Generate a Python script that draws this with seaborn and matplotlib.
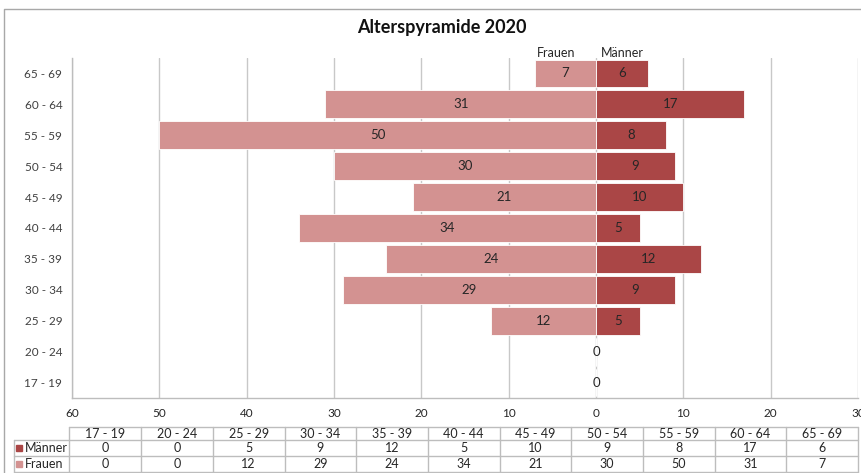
import numpy as np
import pandas as pd
import seaborn as sns
import matplotlib
matplotlib.use("Agg")
import matplotlib.pyplot as plt
from matplotlib.lines import Line2D
from matplotlib.patches import Rectangle

# Age groups, top of the pyramid first
age_groups = ["65 - 69", "60 - 64", "55 - 59", "50 - 54", "45 - 49", "40 - 44",
              "35 - 39", "30 - 34", "25 - 29", "20 - 24", "17 - 19"]
maenner = [6, 17, 8, 9, 10, 5, 12, 9, 5, 0, 0]
frauen = [7, 31, 50, 30, 21, 34, 24, 29, 12, 0, 0]
x_ticks = [-60, -50, -40, -30, -20, -10, 0, 10, 20, 30]
x_tick_labels = ["60", "50", "40", "30", "20", "10", "0", "10", "20", "30"]

C_FRAUEN = "#D39291"
C_MAENNER = "#AA4646"
GRID = "#C8C8C8"
TEXT = "#262626"

sns.set_theme(style="white")
plt.rcParams["font.family"] = ["Lato", "DejaVu Sans"]

W, H = 862, 473
fig = plt.figure(figsize=(W / 100, H / 100), dpi=100)


def fx(px):
    return px / W


def fy(py):
    return 1 - py / H


ax = fig.add_axes([fx(72), fy(398), 786 / W, 340 / H])

df = pd.DataFrame({
    "Altersgruppe": age_groups * 2,
    "Anzahl": [-v for v in frauen] + maenner,
    "Geschlecht": ["Frauen"] * len(frauen) + ["Männer"] * len(maenner),
})

sns.barplot(data=df, y="Altersgruppe", x="Anzahl", hue="Geschlecht",
            order=age_groups, hue_order=["Frauen", "Männer"],
            palette={"Frauen": C_FRAUEN, "Männer": C_MAENNER}, saturation=1,
            orient="h", dodge=False, width=0.9, legend=False,
            edgecolor="white", linewidth=0.6, ax=ax)

# value labels centred in each bar; a single "0" where both sides are empty
ax.bar_label(ax.containers[0], labels=[str(v) if v > 0 else "" for v in frauen],
             label_type="center", fontsize=9.5, color=TEXT)
ax.bar_label(ax.containers[1], labels=[str(v) for v in maenner],
             label_type="center", fontsize=9.5, color=TEXT)

ax.set_xlim(-60, 30)
ax.set_ylim(len(age_groups) - 0.5, -0.5)
ax.set_xticks(x_ticks)
ax.set_xticklabels(x_tick_labels)
ax.xaxis.grid(True, color=GRID, linewidth=1)
ax.yaxis.grid(False)
ax.set_axisbelow(True)
ax.set_xlabel("")
ax.set_ylabel("")
ax.tick_params(axis="x", length=0, pad=7, labelsize=8.5, labelcolor=TEXT)
ax.tick_params(axis="y", length=0, pad=7, labelsize=8.5, labelcolor="#404040")
for side in ["top", "right"]:
    ax.spines[side].set_visible(False)
for side in ["left", "bottom"]:
    ax.spines[side].set_color("#BDBDBD")
    ax.spines[side].set_linewidth(1)

# title and series captions
fig.text(fx(442), fy(28), "Alterspyramide 2020", ha="center", va="center",
         fontsize=13, fontweight="bold", color="#111111")
fig.text(fx(556), fy(53), "Frauen", ha="center", va="center", fontsize=9, color=TEXT)
fig.text(fx(622), fy(53), "Männer", ha="center", va="center", fontsize=9, color=TEXT)

# outer frame
fig.add_artist(Line2D([fx(4), fx(4), fx(862)], [fy(473), fy(9), fy(9)],
                      color="#A8A8A8", linewidth=1))

# data table below the axis
col_left = 69.5
col_w = (858 - col_left) / len(age_groups)
lab_left = 14
row_y = [427, 440, 456, 472]
tbl_color = "#BDBDBD"

fig.add_artist(Line2D([fx(col_left), fx(858)], [fy(row_y[0])] * 2, color=tbl_color, lw=1))
for yy in row_y[1:]:
    fig.add_artist(Line2D([fx(lab_left), fx(858)], [fy(yy)] * 2, color=tbl_color, lw=1))
fig.add_artist(Line2D([fx(lab_left)] * 2, [fy(row_y[1]), fy(row_y[3])], color=tbl_color, lw=1))
for k in range(len(age_groups) + 1):
    xx = col_left + k * col_w
    fig.add_artist(Line2D([fx(xx)] * 2, [fy(row_y[0]), fy(row_y[3])], color=tbl_color, lw=1))

table_groups = age_groups[::-1]
table_rows = [("Männer", maenner[::-1], C_MAENNER), ("Frauen", frauen[::-1], C_FRAUEN)]

for k, g in enumerate(table_groups):
    cx = col_left + (k + 0.5) * col_w
    fig.text(fx(cx), fy((row_y[0] + row_y[1]) / 2), g, ha="center", va="center",
             fontsize=9, color=TEXT)

for r, (name, vals, col) in enumerate(table_rows):
    cy = (row_y[r + 1] + row_y[r + 2]) / 2
    fig.add_artist(Rectangle((fx(16.5), fy(cy + 3)), 6 / W, 6 / H, color=col,
                             transform=fig.transFigure))
    fig.text(fx(25), fy(cy), name, ha="left", va="center", fontsize=9, color=TEXT)
    for k, v in enumerate(vals):
        cx = col_left + (k + 0.5) * col_w
        fig.text(fx(cx), fy(cy), str(v), ha="center", va="center", fontsize=9, color=TEXT)

fig.savefig("out.png", dpi=100)
